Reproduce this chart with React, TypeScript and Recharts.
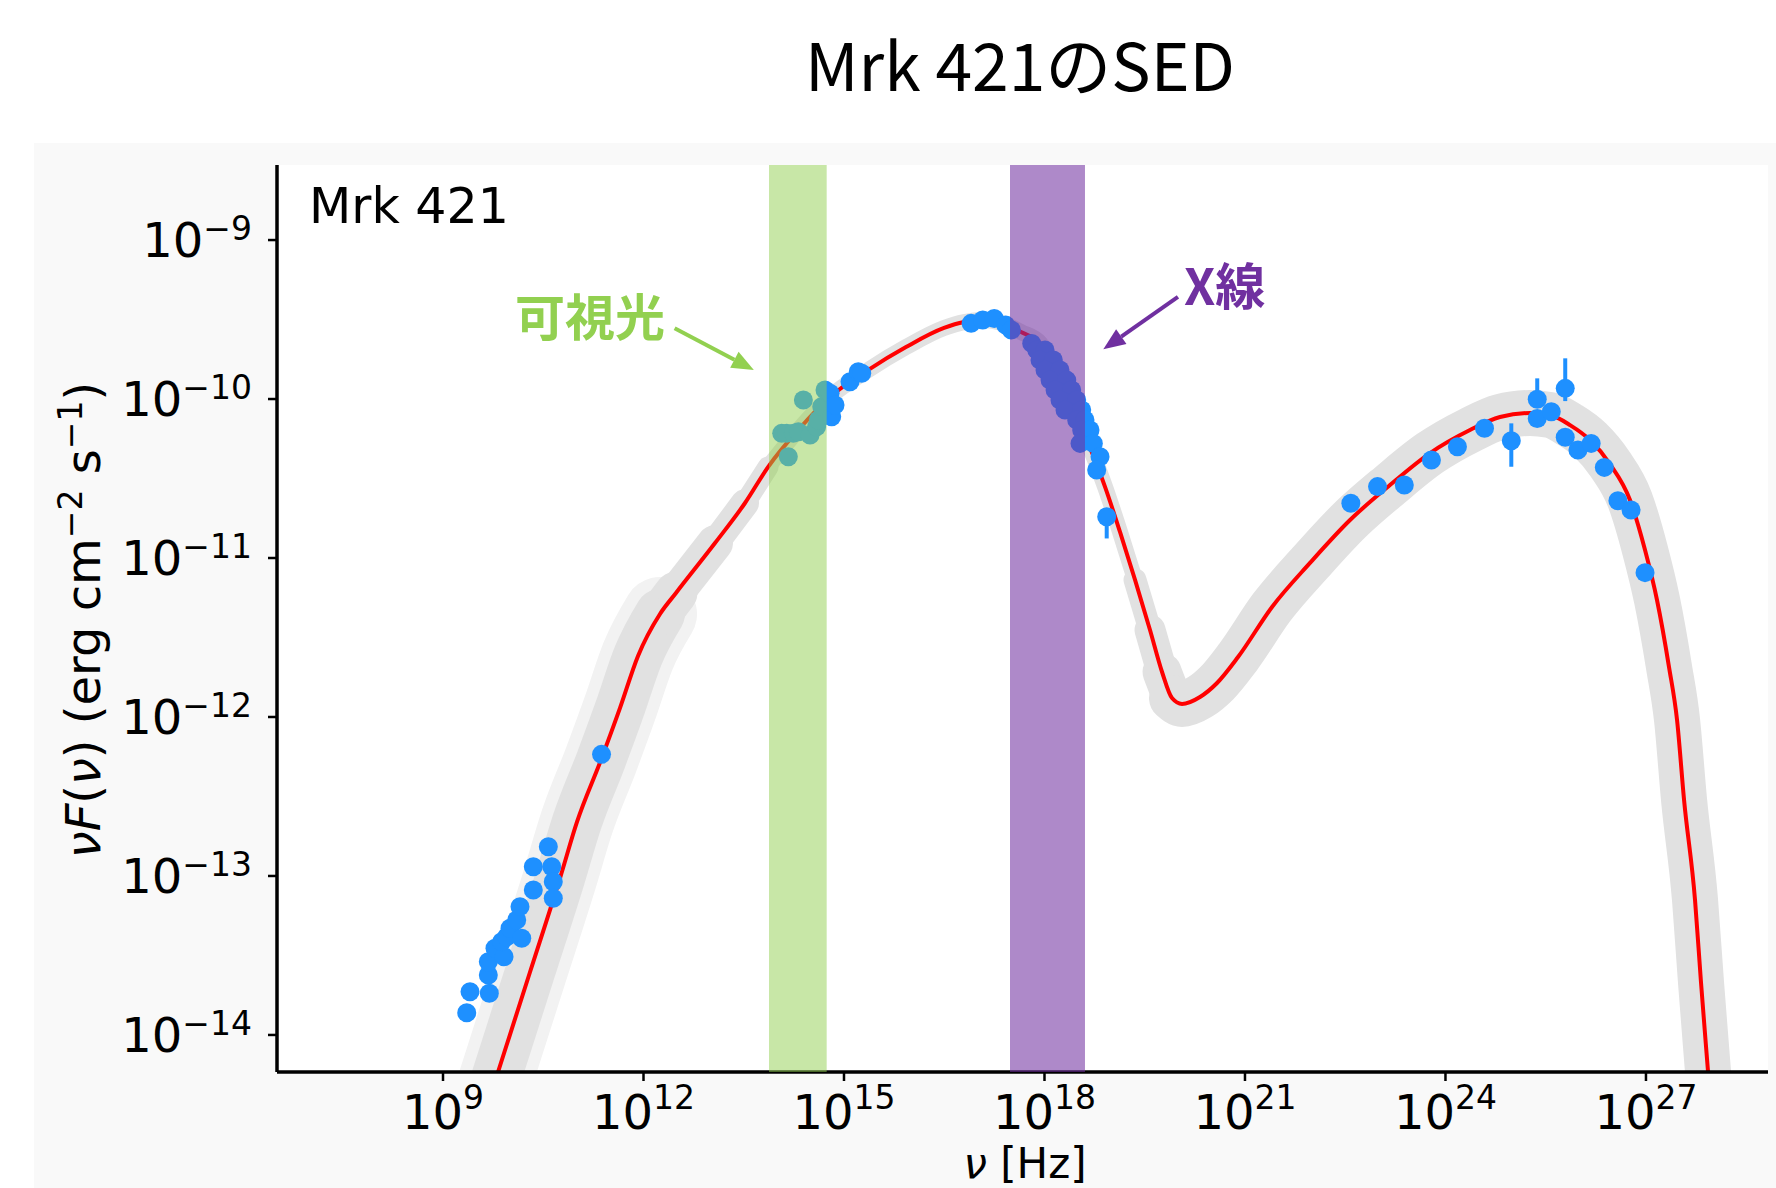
import React from "react";
import {
  ComposedChart,
  Line,
  Scatter,
  XAxis,
  YAxis,
  ReferenceArea,
  ReferenceLine,
  ReferenceDot,
  ErrorBar,
} from "recharts";

// all values are log10: x = log10(nu [Hz]), y = log10(nuF(nu) [erg cm^-2 s^-1])
const modelNu = [
  9.3, 9.823, 10.302, 10.751, 11.005, 11.364, 11.649, 11.918, 12.247, 12.486,
  13.07, 13.519, 13.863, 14.342, 14.791, 15.359, 15.928, 16.497, 16.796, 17.08,
  17.365, 17.649, 17.933, 18.158, 18.352, 18.562, 18.756, 18.906, 19.13, 19.355,
  19.579, 19.759, 19.908, 20.058, 20.327, 20.582, 20.896, 21.405, 21.973, 22.572,
  23.17, 23.769, 24.367, 24.816, 25.265, 25.564, 25.864, 26.163, 26.462, 26.761,
  26.986, 27.165, 27.345, 27.465, 27.57, 27.734, 27.824, 27.929, 28.0,
];
const modelFlux = [
  -14.92, -14.233, -13.604, -13.013, -12.66, -12.27, -11.943, -11.616, -11.352, -11.22,
  -10.906, -10.654, -10.428, -10.182, -9.987, -9.818, -9.673, -9.553, -9.516, -9.503,
  -9.522, -9.579, -9.648, -9.805, -9.994, -10.195, -10.384, -10.553, -10.836, -11.138,
  -11.453, -11.717, -11.881, -11.918, -11.874, -11.786, -11.623, -11.308, -11.031, -10.761,
  -10.541, -10.34, -10.195, -10.113, -10.088, -10.101, -10.164, -10.258, -10.409, -10.635,
  -10.95, -11.264, -11.686, -12.019, -12.522, -13.151, -13.673, -14.233, -14.61,
];

const radioPts = [
  [9.355, -13.86], [9.404, -13.728], [9.693, -13.738], [9.678, -13.623], [9.678, -13.539],
  [9.778, -13.455], [9.913, -13.508], [9.878, -13.413], [9.953, -13.382], [10.003, -13.329],
  [10.178, -13.392], [10.103, -13.277], [10.152, -13.193], [10.351, -13.088], [10.351, -12.942],
  [10.576, -12.816], [10.627, -12.942], [10.65, -13.036], [10.65, -13.14],
];
const mmPts = [[11.372, -12.235]];
const opticalPts = [
  [14.167, -10.363], [14.068, -10.216], [14.143, -10.216], [14.242, -10.216], [14.317, -10.206],
  [14.492, -10.226], [14.59, -10.174], [14.392, -10.006], [14.616, -10.132], [14.667, -10.048],
  [14.716, -9.943], [14.791, -9.964], [14.816, -10.111], [14.866, -10.038], [15.09, -9.891],
  [15.214, -9.828], [15.265, -9.838],
];
const softXPts = [
  [16.902, -9.524], [17.076, -9.503], [17.248, -9.493], [17.42, -9.535], [17.505, -9.566],
];
const xrayPts = [
  [17.809, -9.65], [17.884, -9.692], [18.008, -9.692], [17.933, -9.755], [18.132, -9.755],
  [18.008, -9.818], [18.232, -9.818], [18.083, -9.881], [18.333, -9.881], [18.158, -9.943],
  [18.407, -9.943], [18.232, -10.006], [18.482, -10.006], [18.307, -10.069], [18.557, -10.069],
  [18.482, -10.132], [18.606, -10.132], [18.557, -10.195], [18.681, -10.195], [18.532, -10.279],
  [18.731, -10.279], [18.831, -10.363], [18.781, -10.447],
];
const gammaPts = [
  [22.584, -10.656], [22.983, -10.551], [23.384, -10.541], [23.79, -10.384], [24.179, -10.3],
  [24.584, -10.184], [25.373, -10.122], [25.583, -10.08], [25.792, -10.241], [25.982, -10.321],
  [26.18, -10.279], [26.377, -10.43], [26.58, -10.64], [26.777, -10.698], [26.986, -11.092],
];
const errPts = [[18.931, -10.74], [24.985, -10.262], [25.373, -10.002], [25.792, -9.933]];
const errLow = [0.137, 0.164, 0.05, 0.08];
const errHigh = [0.03, 0.109, 0.132, 0.189];

const opticalBand = [13.878, 14.741];
const xrayBand = [17.484, 18.606];

const xTicks = [9, 12, 15, 18, 21, 24, 27];
const yTicks = [-14, -13, -12, -11, -10, -9];

const visArrow = [[12.466, -9.555], [13.651, -9.818]];
const xArrow = [[19.997, -9.357], [18.88, -9.687]];

const W = 1776;
const H = 1188;
const BLUE = "#1e90ff";
const GREEN = "#92d050";
const PURPLE = "#7030a0";
const FONT = "'DejaVu Sans', sans-serif";
const JP = "'Noto Sans CJK JP', sans-serif";

const model = modelNu.map((x, i) => ({ x, y: modelFlux[i] }));
const rows = (pts: number[][]) => pts.map(([x, y]) => ({ x, y }));
const errRows = errPts.map(([x, y], i) => ({ x, y, err: [errLow[i], errHigh[i]] }));

// gray spread of model realisations: [first point, last point, stroke width]
const envelope = [
  [0, 8, 50],
  [8, 9, 43],
  [9, 10, 36],
  [10, 11, 28],
  [11, 12, 21],
  [12, 29, 16],
  [29, 30, 23],
  [30, 31, 31],
  [31, 32, 39],
  [32, 58, 46],
];

const dot = (p: any) => <circle cx={p.cx} cy={p.cy} r={9.5} fill={BLUE} />;

const XTick = ({ x, y, payload }: any) => (
  <text x={x} y={y + 48} textAnchor="middle" fontFamily={FONT} fontSize={48} fill="#000">
    10
    <tspan dy={-20} fontSize={33}>
      {payload.value}
    </tspan>
  </text>
);

const YTick = ({ x, y, payload }: any) => (
  <text x={x} y={y + 17} textAnchor="end" fontFamily={FONT} fontSize={48} fill="#000">
    10
    <tspan dy={-17} fontSize={33}>
      {"\u2212" + Math.abs(payload.value)}
    </tspan>
  </text>
);

const arrow = (color: string) => (p: any) => {
  const { x1, y1, x2, y2 } = p;
  const a = Math.atan2(y2 - y1, x2 - x1);
  const len = 22;
  const half = 9;
  const bx = x2 - len * Math.cos(a);
  const by = y2 - len * Math.sin(a);
  const s = Math.sin(a);
  const c = Math.cos(a);
  return (
    <g>
      <line x1={x1} y1={y1} x2={bx} y2={by} stroke={color} strokeWidth={4} />
      <polygon
        points={`${x2},${y2} ${bx + half * s},${by - half * c} ${bx - half * s},${by + half * c}`}
        fill={color}
      />
    </g>
  );
};

const label = (text: string, color: string) => (p: any) => (
  <text x={p.cx} y={p.cy} fontFamily={JP} fontWeight={700} fontSize={50} fill={color}>
    {text}
  </text>
);

const mrkLabel = (p: any) => (
  <text x={p.cx} y={p.cy} fontFamily={FONT} fontSize={49} fill="#000">
    Mrk 421
  </text>
);

export default function App() {
  return (
    <div style={{ position: "absolute", left: 0, top: 0, width: W, height: H, background: "#fff", overflow: "hidden" }}>
      <div style={{ position: "absolute", left: 34, top: 143, right: 0, bottom: 0, background: "#f9f9f9" }} />
      <div style={{ position: "absolute", left: 277, top: 165, width: 1491, height: 907, background: "#fff" }} />
      <svg width={W} height={H} style={{ position: "absolute", left: 0, top: 0 }}>
        <text x={1020} y={91} textAnchor="middle" fontFamily={JP} fontSize={66} fill="#000">
          Mrk 421のSED
        </text>
        <text transform="translate(100,620) rotate(-90)" textAnchor="middle" fontFamily={FONT} fontSize={48} fill="#000">
          <tspan fontStyle="italic">νF</tspan>(<tspan fontStyle="italic">ν</tspan>) (erg cm
          <tspan dy={-18} fontSize={33}>−2</tspan>
          <tspan dy={18}>{" s"}</tspan>
          <tspan dy={-18} fontSize={33}>−1</tspan>
          <tspan dy={18}>)</tspan>
        </text>
        <text x={1025} y={1178} textAnchor="middle" fontFamily={FONT} fontSize={42} fill="#000">
          <tspan fontStyle="italic">ν</tspan> [Hz]
        </text>
      </svg>
      <div style={{ position: "absolute", left: 0, top: 0 }}>
        <ComposedChart width={W} height={H} margin={{ top: 165, right: 8, bottom: 0, left: 0 }}>
          <XAxis
            dataKey="x"
            type="number"
            domain={[6.516, 28.826]}
            allowDataOverflow
            ticks={xTicks}
            interval={0}
            height={116}
            tickSize={9}
            tickMargin={0}
            tick={<XTick />}
            tickLine={{ stroke: "#000", strokeWidth: 2.5 }}
            axisLine={{ stroke: "#000", strokeWidth: 3.5 }}
          />
          <XAxis
            xAxisId="top"
            orientation="top"
            type="number"
            domain={[6.516, 28.826]}
            height={0}
            tick={false}
            tickLine={false}
            axisLine={{ stroke: "#000", strokeWidth: 3.5 }}
          />
          <YAxis
            type="number"
            domain={[-14.233, -8.528]}
            allowDataOverflow
            ticks={yTicks}
            interval={0}
            width={277}
            tickSize={9}
            tickMargin={16}
            tick={<YTick />}
            tickLine={{ stroke: "#000", strokeWidth: 2.5 }}
            axisLine={{ stroke: "#000", strokeWidth: 3.5 }}
          />
          <YAxis
            yAxisId="right"
            orientation="right"
            type="number"
            domain={[-14.233, -8.528]}
            width={0}
            tick={false}
            tickLine={false}
            axisLine={{ stroke: "#000", strokeWidth: 3.5 }}
          />

          {/* faint outer spread on the radio side */}
          <Line data={model.slice(0, 9)} dataKey="y" type="monotone" stroke="#f2f2f2" strokeWidth={74} strokeLinecap="round" strokeLinejoin="round" dot={false} activeDot={false} isAnimationActive={false} />
          {envelope.map(([a, b, w], i) => (
            <Line
              key={i}
              data={model.slice(a, b + 1)}
              dataKey="y"
              type="monotone"
              stroke="#e1e1e1"
              strokeWidth={w}
              strokeLinecap="round"
              strokeLinejoin="round"
              dot={false}
              activeDot={false}
              isAnimationActive={false}
            />
          ))}

          {/* best-fit model */}
          <Line data={model} dataKey="y" type="monotone" stroke="#ff0000" strokeWidth={4} dot={false} activeDot={false} isAnimationActive={false} />

          <Scatter data={rows(radioPts)} dataKey="y" shape={dot} isAnimationActive={false} />
          <Scatter data={rows(mmPts)} dataKey="y" shape={dot} isAnimationActive={false} />
          <Scatter data={rows(opticalPts)} dataKey="y" shape={dot} isAnimationActive={false} />
          <Scatter data={rows(softXPts)} dataKey="y" shape={dot} isAnimationActive={false} />
          <Scatter data={rows(xrayPts)} dataKey="y" shape={dot} isAnimationActive={false} />
          <Scatter data={rows(gammaPts)} dataKey="y" shape={dot} isAnimationActive={false} />
          <Scatter data={errRows} dataKey="y" shape={dot} isAnimationActive={false}>
            <ErrorBar dataKey="err" direction="y" width={0} stroke={BLUE} strokeWidth={4} />
          </Scatter>

          <ReferenceArea x1={opticalBand[0]} x2={opticalBand[1]} fill={GREEN} fillOpacity={0.5} stroke="none" zIndex={700} />
          <ReferenceArea x1={xrayBand[0]} x2={xrayBand[1]} fill={PURPLE} fillOpacity={0.57} stroke="none" zIndex={700} />

          <ReferenceLine
            segment={[{ x: visArrow[0][0], y: visArrow[0][1] }, { x: visArrow[1][0], y: visArrow[1][1] }]}
            shape={arrow(GREEN)}
            zIndex={800}
          />
          <ReferenceLine
            segment={[{ x: xArrow[0][0], y: xArrow[0][1] }, { x: xArrow[1][0], y: xArrow[1][1] }]}
            shape={arrow(PURPLE)}
            zIndex={800}
          />
          <ReferenceDot x={10.077} y={-9.604} r={0} shape={label("可視光", GREEN)} zIndex={800} />
          <ReferenceDot x={20.088} y={-9.409} r={0} shape={label("X線", PURPLE)} zIndex={800} />
          <ReferenceDot x={6.995} y={-8.891} r={0} shape={mrkLabel} zIndex={800} />
        </ComposedChart>
      </div>
    </div>
  );
}
